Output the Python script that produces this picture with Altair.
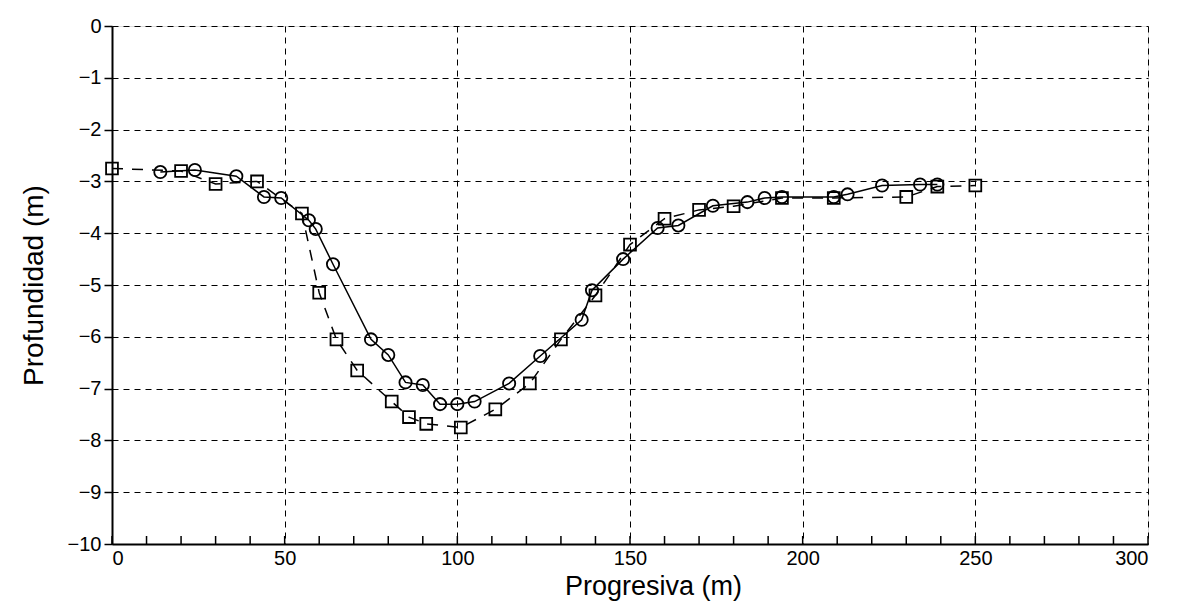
import altair as alt
import pandas as pd

# Circles (solid line)
circle_x = [14, 24, 36, 44, 49, 57, 59, 64, 75, 80, 85, 90, 95, 100, 105, 115, 124,
            136, 139, 148, 158, 164, 174, 184, 189, 194, 209, 213, 223, 234, 239]
circle_y = [-2.82, -2.78, -2.9, -3.3, -3.32, -3.75, -3.92, -4.6, -6.05, -6.35, -6.88, -6.93,
            -7.3, -7.3, -7.25, -6.9, -6.37, -5.67, -5.1, -4.5, -3.9, -3.85, -3.47, -3.4,
            -3.32, -3.3, -3.3, -3.25, -3.08, -3.06, -3.06]

# Squares (dashed line)
square_x = [0, 20, 30, 42, 55, 60, 65, 71, 81, 86, 91, 101, 111, 121, 130, 140, 150,
            160, 170, 180, 194, 209, 230, 239, 250]
square_y = [-2.75, -2.8, -3.05, -3.0, -3.62, -5.15, -6.05, -6.65, -7.25, -7.55, -7.68, -7.75,
            -7.4, -6.9, -6.05, -5.2, -4.22, -3.72, -3.55, -3.48, -3.32, -3.32, -3.3, -3.1, -3.08]

x_ticks = [0, 50, 100, 150, 200, 250, 300]
x_minor = list(range(0, 301, 10))
y_ticks = [0, -1, -2, -3, -4, -5, -6, -7, -8, -9, -10]

circles = pd.DataFrame({"x": circle_x, "y": circle_y})
squares = pd.DataFrame({"x": square_x, "y": square_y})
minor = pd.DataFrame({"x": x_minor})

FONT = "Liberation Sans Narrow, Liberation Sans, sans-serif"
W, H = 1036, 518

x_enc = alt.X(
    "x:Q",
    scale=alt.Scale(domain=[0, 300], nice=False, zero=False),
    axis=alt.Axis(
        values=x_ticks, title="Progresiva  (m)", ticks=False, labelPadding=4,
        labelFontSize=20, labelFont=FONT, labelColor="black", labelFontWeight="normal",
        titleFont=FONT, titleFontSize=27, titleFontWeight="normal", titleColor="black",
        titleX=541, titleY=42, titleBaseline="middle", titleAlign="center",
        grid=True, gridColor="black", gridDash=[6, 5], gridWidth=1,
        domainColor="black", domainWidth=2,
    ),
)
y_enc = alt.Y(
    "y:Q",
    scale=alt.Scale(domain=[-10, 0], nice=False, zero=False),
    axis=alt.Axis(
        values=y_ticks, title="Profundidad  (m)", tickSize=8, tickColor="black", tickWidth=1.5,
        labelPadding=3, labelFontSize=20, labelFont=FONT, labelColor="black",
        titleFont=FONT, titleFontSize=28, titleFontWeight="normal", titleColor="black",
        titleX=-78, titleY=H / 2, titleBaseline="middle", titleAlign="center", titleAngle=-90,
        grid=True, gridColor="black", gridDash=[6, 5], gridWidth=1,
        domainColor="black", domainWidth=2,
    ),
)

c_line = alt.Chart(circles).mark_line(color="black", strokeWidth=1.5).encode(x=x_enc, y=y_enc)
c_pts = alt.Chart(circles).mark_point(shape="circle", size=150, filled=False, color="black",
                                      strokeWidth=1.8, opacity=1).encode(x=x_enc, y=y_enc)
s_line = alt.Chart(squares).mark_line(color="black", strokeWidth=1.5,
                                      strokeDash=[11, 9]).encode(x=x_enc, y=y_enc)
s_pts = alt.Chart(squares).mark_point(shape="square", size=140, filled=False, color="black",
                                      strokeWidth=1.8, opacity=1).encode(x=x_enc, y=y_enc)
ticks = alt.Chart(minor).mark_rule(color="black", strokeWidth=1.5).encode(
    x=x_enc, y=alt.value(H), y2=alt.value(H - 8)
)

chart = alt.layer(c_line, s_line, c_pts, s_pts, ticks).properties(
    width=W, height=H,
    padding={"left": 104, "top": 18, "right": 15, "bottom": 58},
    autosize=alt.AutoSizeParams(type="none"),
).configure_view(stroke=None).configure(background="white")

chart.save("out.html", embed_options={"renderer": "svg", "actions": False})
